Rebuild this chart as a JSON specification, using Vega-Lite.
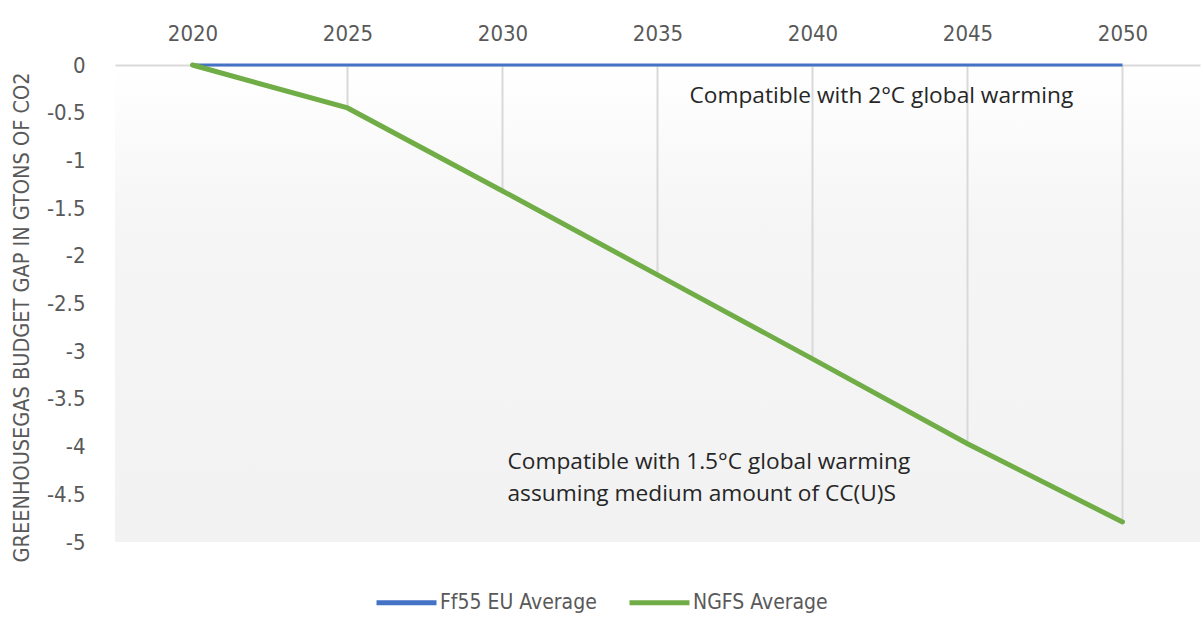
{
  "$schema": "https://vega.github.io/schema/vega-lite/v6.json",
  "autosize": {"type": "none"},
  "width": 1085,
  "height": 477,
  "padding": {"left": 115, "top": 65, "right": 3, "bottom": 77},
  "background": "#ffffff",
  "config": {
    "font": "Liberation Sans Narrow, DejaVu Sans Condensed, sans-serif",
    "view": {
      "stroke": null,
      "fill": {
        "gradient": "linear",
        "x1": 0, "y1": 0, "x2": 0, "y2": 1,
        "stops": [
          {"offset": 0, "color": "#ffffff"},
          {"offset": 0.35, "color": "#f5f5f5"},
          {"offset": 1, "color": "#f2f2f2"}
        ]
      }
    }
  },
  "datasets": {
    "series": [
      {"year": "2020", "series": "Ff55 EU Average", "value": 0},
      {"year": "2025", "series": "Ff55 EU Average", "value": 0},
      {"year": "2030", "series": "Ff55 EU Average", "value": 0},
      {"year": "2035", "series": "Ff55 EU Average", "value": 0},
      {"year": "2040", "series": "Ff55 EU Average", "value": 0},
      {"year": "2045", "series": "Ff55 EU Average", "value": 0},
      {"year": "2050", "series": "Ff55 EU Average", "value": 0},
      {"year": "2020", "series": "NGFS Average", "value": 0},
      {"year": "2025", "series": "NGFS Average", "value": -0.45},
      {"year": "2030", "series": "NGFS Average", "value": -1.32},
      {"year": "2035", "series": "NGFS Average", "value": -2.2},
      {"year": "2040", "series": "NGFS Average", "value": -3.08},
      {"year": "2045", "series": "NGFS Average", "value": -3.97},
      {"year": "2050", "series": "NGFS Average", "value": -4.79}
    ],
    "notes": [
      {"year": "2035", "value": -0.33, "label": "Compatible with 2°C global warming"},
      {"year": "2030", "value": -4.16, "label": "Compatible with 1.5°C global warming"},
      {"year": "2030", "value": -4.5, "label": "assuming medium amount of CC(U)S"}
    ]
  },
  "encoding": {
    "x": {
      "field": "year", "type": "ordinal",
      "scale": {"type": "point", "padding": 0.5},
      "axis": {
        "orient": "top", "title": null, "labelAngle": 0,
        "ticks": false, "domain": true, "domainColor": "#d9d9d9", "domainWidth": 2,
        "grid": false, "labelFontSize": 22, "labelColor": "#595959",
        "labelPadding": 20
      }
    },
    "y": {
      "field": "value", "type": "quantitative",
      "scale": {"domain": [-5, 0], "nice": false, "zero": false},
      "axis": {
        "values": [0, -0.5, -1, -1.5, -2, -2.5, -3, -3.5, -4, -4.5, -5],
        "labelExpr": "toString(datum.value)",
        "domain": false, "ticks": false, "grid": false,
        "labelFontSize": 22, "labelColor": "#595959", "labelPadding": 30,
        "title": "GREENHOUSEGAS BUDGET GAP IN GTONS OF CO2",
        "titleFontSize": 21.5, "titleFontWeight": "normal", "titleColor": "#595959",
        "titleX": -93, "titleY": 252, "titleAngle": -90,
        "titleAlign": "center", "titleBaseline": "middle"
      }
    }
  },
  "layer": [
    {
      "data": {"name": "series"},
      "transform": [{"filter": "datum.series == 'NGFS Average'"}],
      "mark": {"type": "rule", "color": "#d9d9d9", "strokeWidth": 2},
      "encoding": {"y2": {"datum": 0}}
    },
    {
      "data": {"name": "series"},
      "transform": [{"filter": "datum.series == 'Ff55 EU Average'"}],
      "mark": {"type": "line", "strokeWidth": 3},
      "encoding": {
        "color": {
          "field": "series", "type": "nominal",
          "scale": {"domain": ["Ff55 EU Average", "NGFS Average"], "range": ["#4472c4", "#70ad47"]},
          "legend": {
            "title": null, "orient": "none", "direction": "horizontal",
            "legendX": 259, "legendY": 505,
            "symbolType": "stroke", "symbolSize": 3600, "symbolStrokeWidth": 5,
            "labelFontSize": 21, "labelColor": "#595959", "labelOffset": 1,
            "labelLimit": 400, "columnPadding": 22
          }
        }
      }
    },
    {
      "data": {"name": "series"},
      "transform": [{"filter": "datum.series == 'NGFS Average'"}],
      "mark": {"type": "line", "strokeWidth": 5, "strokeCap": "round"},
      "encoding": {"color": {"field": "series", "type": "nominal"}}
    },
    {
      "data": {"name": "notes"},
      "mark": {"type": "text", "align": "left", "baseline": "middle", "dx": 32, "fontSize": 22.7, "color": "#262626", "font": "Open Sans"},
      "transform": [{"filter": "datum.year == '2035'"}],
      "encoding": {"text": {"field": "label"}}
    },
    {
      "data": {"name": "notes"},
      "mark": {"type": "text", "align": "left", "baseline": "middle", "dx": 5, "fontSize": 22.7, "color": "#262626", "font": "Open Sans"},
      "transform": [{"filter": "datum.year == '2030'"}],
      "encoding": {"text": {"field": "label"}}
    }
  ]
}
